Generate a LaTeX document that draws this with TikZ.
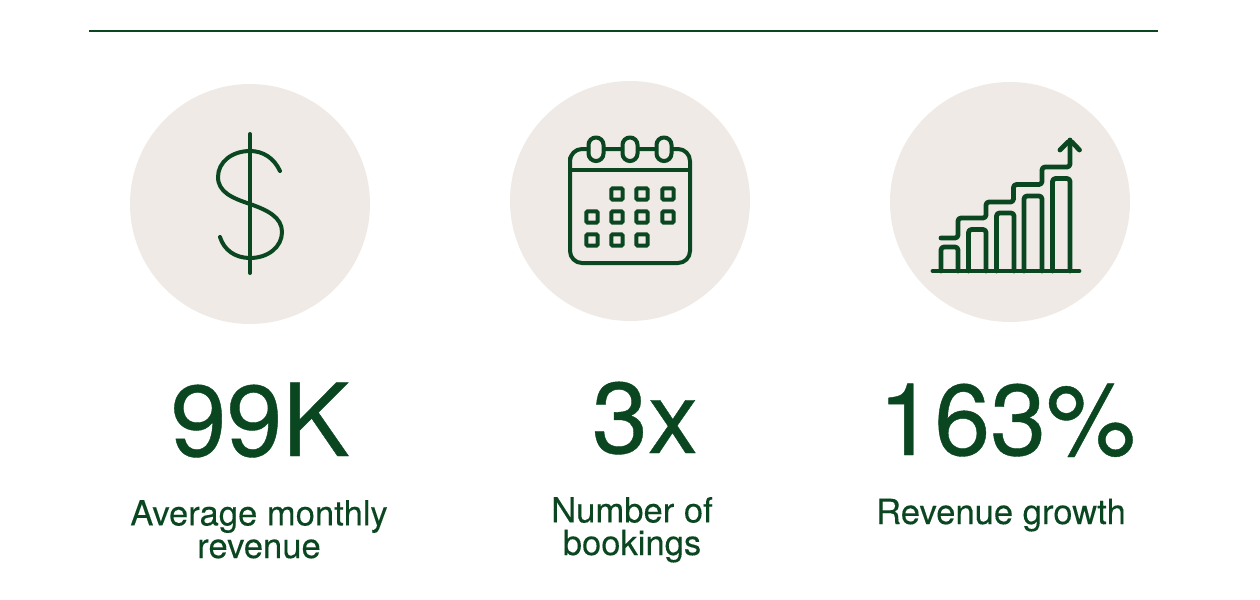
\documentclass[tikz,border=0pt]{standalone}
\usepackage{fontspec}
\setmainfont{TeX Gyre Heros}
\newfontfamily\heavyfont[FakeBold=0.4]{TeX Gyre Heros}
\newfontfamily\mediumfont[FakeBold=0.2]{TeX Gyre Heros}
\definecolor{darkgreen}{HTML}{0A4720}
\definecolor{sand}{HTML}{EFEAE6}
\tikzset{%
	disc/.style     = {circle, fill=sand, minimum size=120pt, inner sep=0pt},
	figure/.style   = {text=darkgreen, font=\heavyfont\fontsize{50.3}{50}\selectfont, inner sep=0pt, anchor=base},
	caption/.style  = {text=darkgreen, font=\mediumfont\fontsize{17.3}{16.3}\selectfont, inner sep=0pt, align=center, anchor=base},
	icon/.style     = {draw=darkgreen, line width=2pt, line cap=round, line join=round},
	bar/.style      = {icon, line width=2.4pt, rounded corners=1.5pt},
	cell/.style     = {draw=darkgreen, line width=2pt, rectangle, rounded corners=0.6pt, minimum size=5.6pt, inner sep=0pt},
	ring/.style     = {draw=darkgreen, line width=2pt, fill=sand, rounded corners=3.7pt},
}
\begin{document}
\begin{tikzpicture}[x=0.5pt,y=-0.5pt]
	\useasboundingbox (0,0) rectangle (1260,600);
	\coordinate (ruleL) at (89,30.5);
	\coordinate (ruleR) at (1158,30.5);
	\draw[darkgreen,line width=1pt] (ruleL) -- (ruleR);

	\node[disc] (money) at (250,204) {};
	\node[disc] (dates) at (630,201) {};
	\node[disc] (growth) at (1010,202) {};

	% dollar
	\draw[icon] (250,134) -- (250,273);
	\draw[icon] (280,171) .. controls (274,158) and (263,151) .. (250,151)
		.. controls (232,151) and (218,162) .. (218,177)
		.. controls (218,192) and (232,198) .. (250,204)
		.. controls (267,210) and (282,217) .. (282,232)
		.. controls (282,247) and (268,258) .. (250,258)
		.. controls (235,258) and (224,250) .. (220,237);

	% calendar
	\draw[icon,rounded corners=6pt] (570,170) -- (570,149) -- (690,149) -- (690,263) -- (570,263) -- cycle;
	\draw[icon] (570,170) -- (690,170);
	\foreach \x in {596,630,664}
		\draw[ring] (\x-7.5,137.5) rectangle (\x+7.5,161);
	\foreach \x/\y in {617/194,642/194,668/194,592/217,617/217,642/217,668/217,592/240,617/240,642/240}
		\node[cell] at (\x,\y) {};

	% chart
	\foreach \l/\r/\t in {941/958/247,968.5/986/229.5,996.5/1014/213,1024/1042/196,1052.5/1070/178.5}
		\draw[bar] (\l,271) -- (\l,\t) -- (\r,\t) -- (\r,271);
	\draw[bar] (933,271) -- (1079,271);
	\draw[bar] (941,238) -- (958,238) -- (958,218) -- (986,218) -- (986,202) -- (1013.5,202) -- (1013.5,184.5) -- (1042,184.5) -- (1042,167) -- (1070,167) -- (1070,140);
	\draw[bar] (1060,150) -- (1070,140) -- (1079.5,150);

	\node[figure] (moneyval) at (260,456) {99K};
	\node[figure] (datesval) at (645,453) {3x};
	\node[figure] (growthval) at (1007,455) {163\%};

	\node[caption] (moneytxt) at (259,558) {Average monthly\\revenue};
	\node[caption] (datestxt) at (632,555) {Number of\\bookings};
	\node[caption] (growthtxt) at (1001,524) {Revenue growth};
\end{tikzpicture}
\end{document}
